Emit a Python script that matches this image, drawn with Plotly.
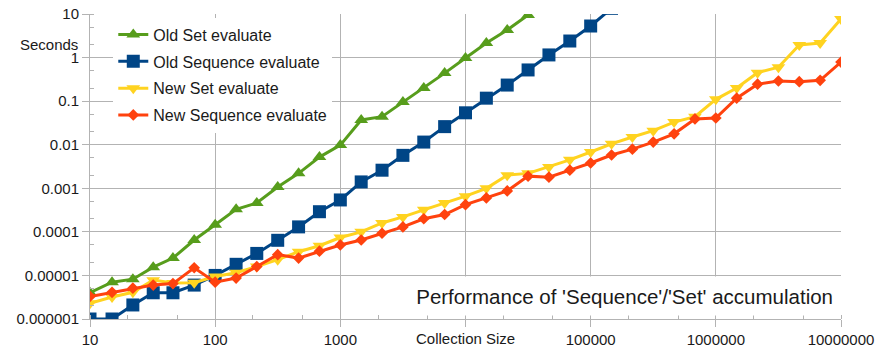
import plotly.graph_objects as go

# Collection sizes (x categories, 6 points per decade)
sizes = [10, 15, 22, 32, 46, 68, 100, 147, 215, 316, 464, 681,
         1000, 1468, 2154, 3162, 4642, 6813, 10000, 14678, 21544, 31623, 46416, 68129,
         100000, 146780, 215443, 316228, 464159, 681292,
         1000000, 1467799, 2154435, 3162278, 4641589, 6812921, 10000000]

old_set = [4.0e-6, 7.0e-6, 8.2e-6, 1.55e-5, 2.5e-5, 6.5e-5, 1.45e-4, 3.3e-4, 4.6e-4, 1.07e-3,
           2.2e-3, 5.2e-3, 9.8e-3, 0.037, 0.044, 0.095, 0.20, 0.44, 0.98, 2.16, 4.3, 9.5]

old_seq = [1.0e-6, 1.0e-6, 2.1e-6, 4.0e-6, 4.0e-6, 6.0e-6, 1.0e-5, 1.8e-5, 3.2e-5, 6.4e-5,
           1.3e-4, 2.9e-4, 5.4e-4, 1.4e-3, 2.6e-3, 5.7e-3, 0.0115, 0.026, 0.054, 0.117,
           0.234, 0.52, 1.15, 2.4, 5.3, 13.5]

new_set = [2.3e-6, 3.2e-6, 4.1e-6, 7.8e-6, 6.7e-6, 6.8e-6, 9.5e-6, 1.15e-5, 1.6e-5, 2.3e-5,
           3.5e-5, 4.8e-5, 7.4e-5, 1.0e-4, 1.6e-4, 2.2e-4, 3.2e-4, 4.6e-4, 6.6e-4, 1.0e-3,
           2.0e-3, 2.2e-3, 3.1e-3, 4.5e-3, 6.8e-3, 0.0105, 0.015, 0.021, 0.033, 0.044,
           0.11, 0.20, 0.45, 0.60, 1.95, 2.15, 7.7]

new_seq = [3.3e-6, 4.1e-6, 5.1e-6, 6.0e-6, 6.5e-6, 1.5e-5, 7.0e-6, 8.7e-6, 1.6e-5, 3.0e-5,
           2.5e-5, 3.6e-5, 5.0e-5, 6.5e-5, 9.3e-5, 1.3e-4, 2.0e-4, 2.5e-4, 4.2e-4, 6.0e-4,
           8.7e-4, 1.9e-3, 1.8e-3, 2.6e-3, 3.8e-3, 5.8e-3, 7.9e-3, 0.0115, 0.0178, 0.039,
           0.041, 0.117, 0.245, 0.29, 0.28, 0.30, 0.79]

series_names = ["Old Set evaluate", "Old Sequence evaluate", "New Set evaluate", "New Sequence evaluate"]

y_tickvals = [10, 1, 0.1, 0.01, 0.001, 0.0001, 0.00001, 0.000001]
y_ticktext = ["10", "1", "0.1", "0.01", "0.001", "0.0001", "0.00001", "0.000001"]
x_tickvals = [10, 100, 1000, 10000, 100000, 1000000, 10000000]
x_ticktext = ["10", "100", "1000", "", "100000", "1000000", "10000000"]

FONT = "Liberation Sans, Arial, sans-serif"
GRID = "#b3b3b3"
TXT = "#1a1a1a"

styles = [
    dict(color="#579d1c", symbol="triangle-up", size=12),
    dict(color="#004586", symbol="square", size=13),
    dict(color="#ffd320", symbol="triangle-down", size=12),
    dict(color="#ff420e", symbol="diamond", size=9),
]
data = [old_set, old_seq, new_set, new_seq]

fig = go.Figure()
for name, ys, st in zip(series_names, data, styles):
    fig.add_trace(go.Scatter(
        x=sizes[:len(ys)], y=ys, name=name, mode="lines+markers",
        legendgroup=name,
        line=dict(color=st["color"], width=3),
        marker=dict(symbol=st["symbol"], size=st["size"], color=st["color"]),
        cliponaxis=True,
    ))

fig.update_layout(
    width=877, height=351,
    margin=dict(l=90, r=36, t=14, b=32, autoexpand=False),
    paper_bgcolor="white", plot_bgcolor="white",
    font=dict(family=FONT, size=15, color=TXT),
    showlegend=True,
    legend=dict(x=0.031, y=0.988, xanchor="left", yanchor="top",
                bgcolor="white", borderwidth=0,
                font=dict(family=FONT, size=16, color=TXT),
                tracegroupgap=3, traceorder="grouped"),
)

common = dict(
    type="log", showgrid=True, gridcolor=GRID, gridwidth=1,
    showline=True, linecolor=GRID, linewidth=1,
    ticks="outside", ticklen=7, tickcolor=GRID,
    minor=dict(ticks="inside", ticklen=4, tickcolor=GRID, showgrid=False),
    tickfont=dict(size=15, family=FONT, color=TXT), zeroline=False, automargin=False,
)
fig.update_xaxes(range=[1, 7], tickvals=x_tickvals, ticktext=x_ticktext, **common)
fig.update_yaxes(range=[-6, 1], tickvals=y_tickvals, ticktext=y_ticktext, **common)

fig.add_annotation(text="Seconds", xref="paper", yref="paper", x=0, y=1,
                   xanchor="right", yanchor="middle", xshift=-10, yshift=-30,
                   showarrow=False, font=dict(size=15, family=FONT, color=TXT))
fig.add_annotation(text="Collection Size", xref="x", yref="paper", x=4, y=0,
                   xanchor="center", yanchor="top", yshift=-9,
                   showarrow=False, font=dict(size=15, family=FONT, color=TXT))
fig.add_annotation(text="Performance of 'Sequence'/'Set' accumulation",
                   xref="paper", yref="paper", x=1, y=0, xanchor="right", yanchor="bottom",
                   yshift=3, width=432, height=38, align="right",
                   bgcolor="white", borderpad=0, showarrow=False,
                   font=dict(size=20.5, family=FONT, color=TXT))
fig.add_annotation(text="", xref="paper", yref="paper", x=1, y=0, showarrow=False,
                   visible=False)

fig.layout.annotations[2].update(xshift=-7)

fig.write_html("out.html", config={"displayModeBar": False},
               post_script="document.body.style.margin='0px';")
